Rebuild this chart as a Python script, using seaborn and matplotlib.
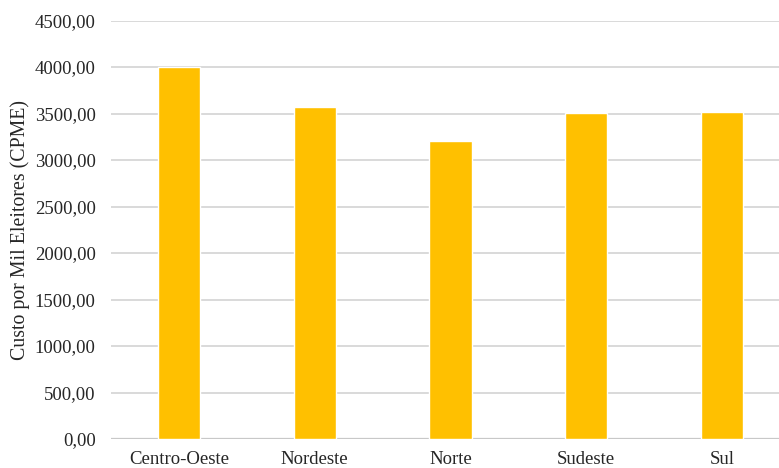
import matplotlib
matplotlib.use("Agg")
import matplotlib.pyplot as plt
import seaborn as sns
import pandas as pd

regioes = ["Centro-Oeste", "Nordeste", "Norte", "Sudeste", "Sul"]
cpme = [4005.0, 3573.0, 3201.0, 3509.0, 3513.0]
y_ticks = [0, 500, 1000, 1500, 2000, 2500, 3000, 3500, 4000, 4500]
y_label = "Custo por Mil Eleitores (CPME)"

sns.set_theme(style="white")
plt.rcParams["font.family"] = ["Liberation Serif", "DejaVu Serif"]

df = pd.DataFrame({"regiao": regioes, "cpme": cpme})

fig = plt.figure(figsize=(7.79, 4.68), dpi=100)
ax = fig.add_axes([111 / 779, 1 - 439 / 468, 679 / 779, 418.5 / 468])

sns.barplot(data=df, x="regiao", y="cpme", color="#FFC000", width=0.31,
            saturation=1, ax=ax, zorder=3)

ax.set_xlim(-0.5, 4.5)
ax.set_ylim(0, 4500)
ax.set_yticks(y_ticks)
ax.set_yticklabels([f"{v:.2f}".replace(".", ",") for v in y_ticks])
ax.yaxis.grid(True, color="#d9d9d9", linewidth=1.4, zorder=0)
ax.axhline(0, color="#c8c8c8", linewidth=1.6, zorder=2)
ax.set_axisbelow(True)
for s in ax.spines.values():
    s.set_visible(False)
ax.tick_params(axis="both", length=0, labelsize=13.5, colors="#262626")
ax.tick_params(axis="y", pad=11)
ax.tick_params(axis="x", pad=9)
ax.set_xlabel("")
ax.set_ylabel(y_label, fontsize=14.3, color="#262626")
ax.yaxis.set_label_coords(-(111 - 30) / 679, 0.5)

fig.savefig("out.png", dpi=100)
